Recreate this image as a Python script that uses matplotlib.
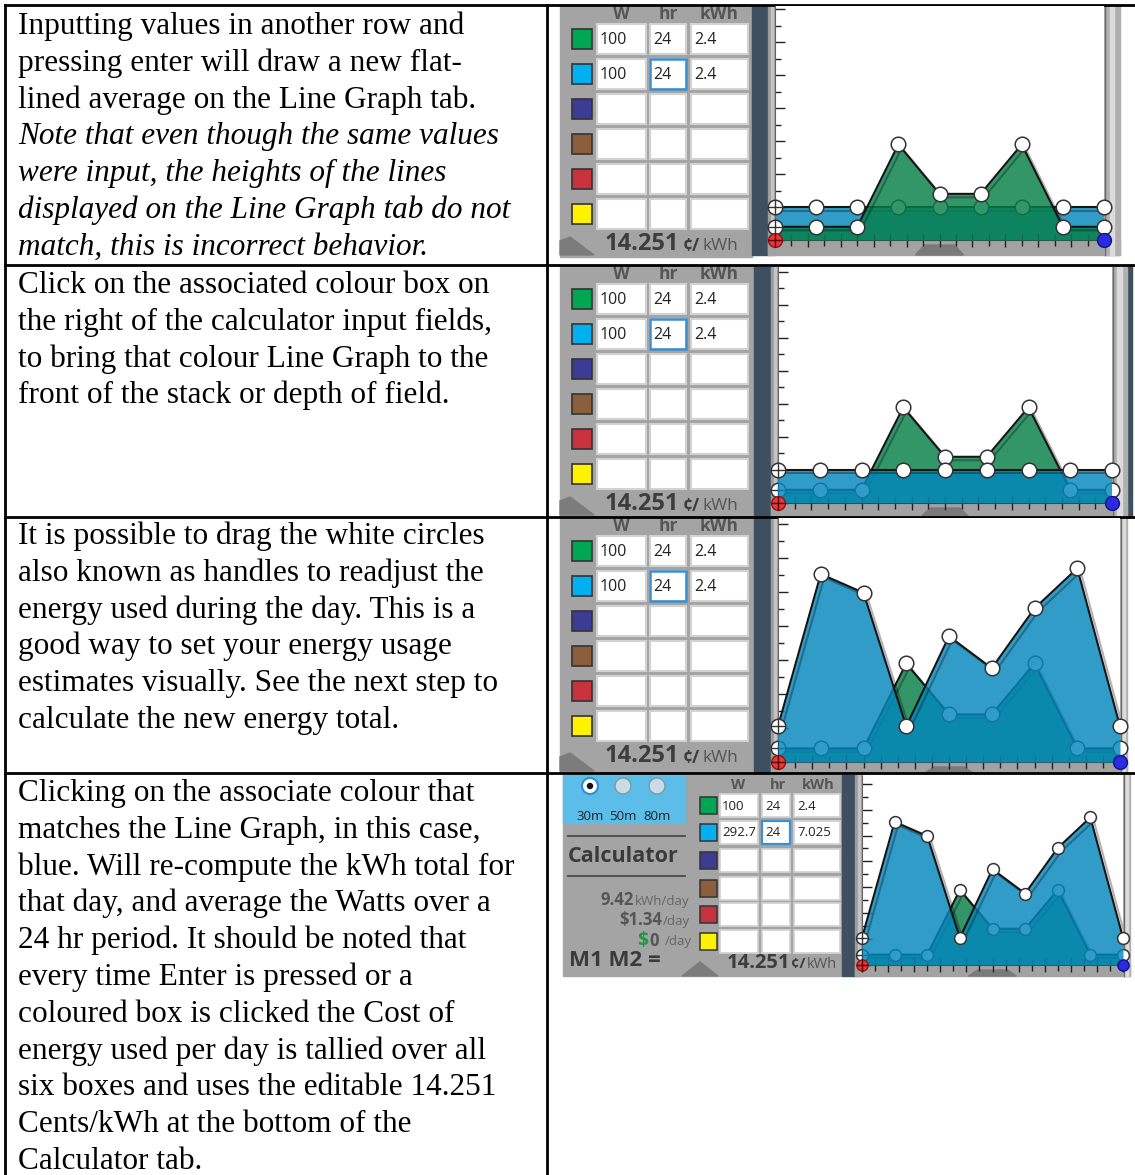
import numpy as np
import matplotlib.pyplot as plt
from matplotlib.patches import Rectangle, Polygon, Circle
import matplotlib.patheffects as pe

W, H = 1135, 1175

# handles on the line graph, one every 3 hours
hours = [0, 3, 6, 9, 12, 15, 18, 21, 24]
green_line = [0.4, 0.4, 0.4, 2.9, 1.4, 1.4, 2.9, 0.4, 0.4]
blue_flat = [1.0, 1.0, 1.0, 1.0, 1.0, 1.0, 1.0, 1.0, 1.0]
blue_dragged = [1.05, 5.53, 4.98, 1.05, 3.7, 2.76, 4.52, 5.7, 1.05]

green_col = '#067f48'
blue_col = '#0387bc'

swatches = ['#00a651', '#00b0f0', '#3c3c96', '#8c5f3c', '#c8323c', '#fff200']
calc_before = [['100', '24', '2.4'], ['100', '24', '2.4']]
calc_after = [['100', '24', '2.4'], ['292.7', '24', '7.025']]
rate = '14.251'
kwh_day = '9.42'
cost_day = '$1.34'
other_day = '0'
radio_labels = ['30m', '50m', '80m']

step1 = ["Inputting values in another row and",
         "pressing enter will draw a new flat-",
         "lined average on the Line Graph tab."]
step1_note = ["Note that even though the same values",
              "were input, the heights of the lines",
              "displayed on the Line Graph tab do not",
              "match, this is incorrect behavior."]
step2 = ["Click on the associated colour box on",
         "the right of the calculator input fields,",
         "to bring that colour Line Graph to the",
         "front of the stack or depth of field."]
step3 = ["It is possible to drag the white circles",
         "also known as handles to readjust the",
         "energy used during the day. This is a",
         "good way to set your energy usage",
         "estimates visually. See the next step to",
         "calculate the new energy total."]
step4 = ["Clicking on the associate colour that",
         "matches the Line Graph, in this case,",
         "blue. Will re-compute the kWh total for",
         "that day, and average the Watts over a",
         "24 hr period. It should be noted that",
         "every time Enter is pressed or a",
         "coloured box is clicked the Cost of",
         "energy used per day is tallied over all",
         "six boxes and uses the editable 14.251",
         "Cents/kWh at the bottom of the",
         "Calculator tab."]

UI = 'Open Sans'
SERIF = 'Liberation Serif'
GRAY = '#a4a4a4'
DARK = '#3e4f5f'

fig = plt.figure(figsize=(W / 100, H / 100), dpi=100)
ax = fig.add_axes([0, 0, 1, 1])
ax.set_xlim(0, W)
ax.set_ylim(H, 0)
ax.axis('off')


def write(lines, y0, italic=False):
    for i, line in enumerate(lines):
        ax.text(18, y0 + i * 36.8, line, fontsize=22.5, family=SERIF,
                style='italic' if italic else 'normal', va='baseline', color='black')


write(step1, 34)
write(step1_note, 34 + 3 * 36.8, italic=True)
write(step2, 293)
write(step3, 544)
write(step4, 801)


def frame(x0, x1, ytop, ybase, ybot, dark_x0, right_x1):
    # window chrome round a line graph
    ax.add_patch(Rectangle((dark_x0, ytop), x0 - 6 - dark_x0, ybot - ytop, color=DARK, zorder=1))
    ax.add_patch(Rectangle((x0 - 7, ytop), 7, ybot - ytop, color='#9c9c9c', zorder=2))
    ax.add_patch(Rectangle((x0 - 4, ytop), 2, ybot - ytop, color='#c4c4c4', zorder=2))
    ax.add_patch(Rectangle((x0 - 7, ybase), right_x1 - x0 + 7, ybot - ybase, color='#a2a2a2', zorder=2))
    ax.add_patch(Rectangle((x1, ytop), right_x1 - x1, ybot - ytop, color='#b0b0b0', zorder=2))
    ax.add_patch(Rectangle((x1 + (right_x1 - x1) * 0.35, ytop), (right_x1 - x1) * 0.3, ybot - ytop,
                           color='#dcdcdc', zorder=2))
    ax.plot([x1 + 1, x1 + 1], [ytop, ybot], color='#6a6a6a', lw=1, zorder=3)
    cx = (x0 + x1) / 2
    ax.add_patch(Polygon([(cx - 24, ybot), (cx - 15, ybase + 5), (cx + 15, ybase + 5), (cx + 24, ybot)],
                         color='#7a7a7a', zorder=3))


def line_graph(x0, x1, ytop, ybase, ymax, back, front, ms):
    g = fig.add_axes([x0 / W, 1 - ybase / H, (x1 - x0) / W, (ybase - ytop) / H])
    g.set_xlim(0, 24)
    g.set_ylim(0, ymax)
    for k, (vals, col) in enumerate([back, front]):
        z = k * 3
        g.fill_between(hours, 0, vals, color=col, alpha=0.82, lw=0, zorder=1 + z)
        g.plot(hours, vals, color='#151515', lw=1.5, zorder=2 + z,
               path_effects=[pe.SimpleLineShadow(offset=(2.5, -2.5), shadow_color='black', alpha=0.3),
                             pe.Normal()])
        g.plot(hours, vals, 'o', ms=ms, mfc='white', mec='#333333', mew=1.1, zorder=3 + z, clip_on=False)
        g.plot(hours[0], vals[0], '+', ms=ms * 0.95, color='#333333', mew=1, zorder=3 + z, clip_on=False)
    g.plot(hours[0], 0, 'o', ms=ms * 0.95, mfc='#e23a3a', mec='#9a1010', zorder=9, clip_on=False)
    g.plot(hours[0], 0, '+', ms=ms * 0.95, color='#5a0000', mew=1, zorder=10, clip_on=False)
    g.plot(hours[-1], 0, 'o', ms=ms * 0.95, mfc='#2b2be0', mec='#10108a', zorder=9, clip_on=False)
    g.set_xticks(np.arange(0, 24.1, 2.4))
    g.set_xticks(np.arange(1.2, 24, 2.4), minor=True)
    g.set_yticks(np.arange(0, ymax, 1.0))
    g.set_yticks(np.arange(0.5, ymax, 1.0), minor=True)
    g.tick_params(axis='y', which='both', direction='in', color='#222', width=1, labelleft=False)
    g.tick_params(axis='y', which='major', length=7)
    g.tick_params(axis='y', which='minor', length=4)
    g.tick_params(axis='x', which='both', direction='inout', color='#222', width=1, labelbottom=False)
    g.tick_params(axis='x', which='major', length=10)
    g.tick_params(axis='x', which='minor', length=8)
    for s in ['top', 'right']:
        g.spines[s].set_visible(False)
    g.spines['left'].set_color('#666666')
    g.spines['bottom'].set_color('#444444')
    return g


def big_calc(top, bottom, right, rows):
    ax.add_patch(Rectangle((560, top), right - 560, bottom - top, color=GRAY, zorder=1))
    for lbl, cx in zip(['W', 'hr', 'kWh'], [621, 668, 719]):
        ax.text(cx, top + 9, lbl, ha='center', va='center', fontsize=12.5, weight='bold',
                color='#555555', family=UI, zorder=3)
    offs = [34, 69, 104, 139, 174, 209]
    for i, (col, off) in enumerate(zip(swatches, offs)):
        cy = top + off
        ax.add_patch(Rectangle((572, cy - 10), 20, 20, facecolor=col, edgecolor='#333333', lw=1.2, zorder=2))
        for bx0, bx1 in [(597, 646), (650, 686), (691, 748)]:
            ax.add_patch(Rectangle((bx0, cy - 15), bx1 - bx0, 30, facecolor='white',
                                   edgecolor='#d2d2d2', lw=1.5, zorder=2))
        if i < len(rows):
            for txt, bx0 in zip(rows[i], [600, 653, 694]):
                ax.text(bx0, cy + 1, txt, ha='left', va='center', fontsize=11.5, color='#222222',
                        family=UI, zorder=3)
    ax.add_patch(Rectangle((650, top + 69 - 15), 36, 30, fill=False, edgecolor='#3b8fd3', lw=1.8, zorder=3))
    ax.add_patch(Polygon([(560, bottom - 2), (594, bottom - 2), (570, bottom - 20), (560, bottom - 16)],
                         color='#7c7c7c', zorder=2))
    ax.text(605, top + 239, rate, fontsize=17, weight='bold', color='#3d3d3d', family=UI,
            va='center', ha='left', zorder=3)
    ax.text(683, top + 241, '¢/', fontsize=12.5, weight='bold', color='#3d3d3d', family=UI,
            va='center', ha='left', zorder=3)
    ax.text(703, top + 241, 'kWh', fontsize=12.5, color='#555555', family=UI,
            va='center', ha='left', zorder=3)


green = (green_line, green_col)

# screenshot 1: green drawn on top
big_calc(5, 257, 752, calc_before)
frame(775, 1104, 6, 240, 255, 752, 1120)
line_graph(775, 1104, 6, 240, 7.1, (blue_flat, blue_col), green, 10.5)

# screenshot 2: blue brought to the front
big_calc(265, 517, 754, calc_before)
frame(778, 1112, 267, 503, 517, 754, 1127)
ax.add_patch(Rectangle((1127, 265), 5, 252, color=DARK, zorder=1))
line_graph(778, 1112, 267, 503, 7.15, green, (blue_flat, blue_col), 10.5)

# screenshot 3: blue handles dragged
big_calc(517, 773, 754, calc_before)
frame(778, 1120, 518, 762, 773, 754, 1127)
line_graph(778, 1120, 518, 762, 7.18, green, (blue_dragged, blue_col), 10.5)

# screenshot 4: calculator tab after recompute
ax.add_patch(Rectangle((563, 775), 279, 201, color=GRAY, zorder=1))
ax.add_patch(Rectangle((563, 775), 122, 48, color='#5cbde9', zorder=2))
for i, (lbl, cx) in enumerate(zip(radio_labels, [590, 623, 657])):
    if i == 0:
        ax.add_patch(Circle((cx, 786), 8, facecolor='white', edgecolor='#2f8fd8', lw=1.5, zorder=3))
        ax.add_patch(Circle((cx, 786), 2.5, color='#111111', zorder=4))
    else:
        ax.add_patch(Circle((cx, 786), 8, facecolor='#c9dde8', edgecolor='#7e9aa8', lw=1, zorder=3))
    ax.text(cx, 816, lbl, ha='center', va='center', fontsize=9.5, color='#222222', family=UI, zorder=3)
ax.plot([568, 685], [836, 836], color='#4a4a4a', lw=1.3, zorder=3)
ax.plot([568, 685], [876, 876], color='#4a4a4a', lw=1.3, zorder=3)
ax.text(568, 857, 'Calculator', fontsize=15.5, weight='bold', color='#3a3a3a', family=UI,
        va='center', ha='left', zorder=3)
ax.text(634, 900, kwh_day, fontsize=12, weight='bold', color='#555555', family=UI, va='center', ha='right', zorder=3)
ax.text(635, 901, 'kWh/day', fontsize=9.5, color='#666666', family=UI, va='center', ha='left', zorder=3)
ax.text(662, 920, cost_day, fontsize=12, weight='bold', color='#555555', family=UI, va='center', ha='right', zorder=3)
ax.text(663, 921, '/day', fontsize=9.5, color='#666666', family=UI, va='center', ha='left', zorder=3)
ax.text(637, 941, '$', fontsize=14, weight='bold', color='#1f9a45', family=UI, va='center', ha='left', zorder=3)
ax.text(649, 941, other_day, fontsize=12, weight='bold', color='#555555', family=UI, va='center', ha='left', zorder=3)
ax.text(665, 942, '/day', fontsize=9.5, color='#666666', family=UI, va='center', ha='left', zorder=3)
ax.text(569, 961, 'M1 M2 =', fontsize=16, weight='bold', color='#3a3a3a', family=UI,
        va='center', ha='left', zorder=3)
ax.add_patch(Polygon([(682, 976), (700, 962), (718, 976)], color='#7c7c7c', zorder=2))
ax.text(727, 963, rate, fontsize=14.5, weight='bold', color='#3d3d3d', family=UI, va='center', ha='left', zorder=3)
ax.text(791, 964, '¢/', fontsize=10.5, weight='bold', color='#3d3d3d', family=UI, va='center', ha='left', zorder=3)
ax.text(807, 964, 'kWh', fontsize=10.5, color='#555555', family=UI, va='center', ha='left', zorder=3)
for lbl, cx in zip(['W', 'hr', 'kWh'], [738, 778, 818]):
    ax.text(cx, 785, lbl, ha='center', va='center', fontsize=10.5, weight='bold',
            color='#555555', family=UI, zorder=3)
for i, (col, cy) in enumerate(zip(swatches, [805, 832, 860, 888, 914, 941])):
    ax.add_patch(Rectangle((700, cy - 8.5), 17, 17, facecolor=col, edgecolor='#333333', lw=1.1, zorder=2))
    for bx0, bx1 in [(720, 758), (762, 790), (794, 840)]:
        ax.add_patch(Rectangle((bx0, cy - 11.5), bx1 - bx0, 23, facecolor='white',
                               edgecolor='#d2d2d2', lw=1.3, zorder=2))
    if i < len(calc_after):
        for txt, bx0 in zip(calc_after[i], [722, 765, 797]):
            ax.text(bx0, cy + 1, txt, ha='left', va='center', fontsize=9.5, color='#222222',
                    family=UI, zorder=3)
ax.add_patch(Rectangle((762, 832 - 11.5), 28, 23, fill=False, edgecolor='#3b8fd3', lw=1.6, zorder=3))
frame(862, 1123, 775, 965, 976, 842, 1130)
line_graph(862, 1123, 776, 965, 7.3, green, (blue_dragged, blue_col), 8.5)

# table rules
ax.add_patch(Rectangle((0, 0), W, 5, color='white', zorder=8))
for y in [5, 265, 517, 773]:
    ax.plot([5, W], [y, y], color='black', lw=2, zorder=9)
ax.plot([5, 5], [5, H], color='black', lw=2, zorder=9)
ax.plot([547, 547], [5, H], color='black', lw=2, zorder=9)

fig.savefig('out.png', dpi=100)
